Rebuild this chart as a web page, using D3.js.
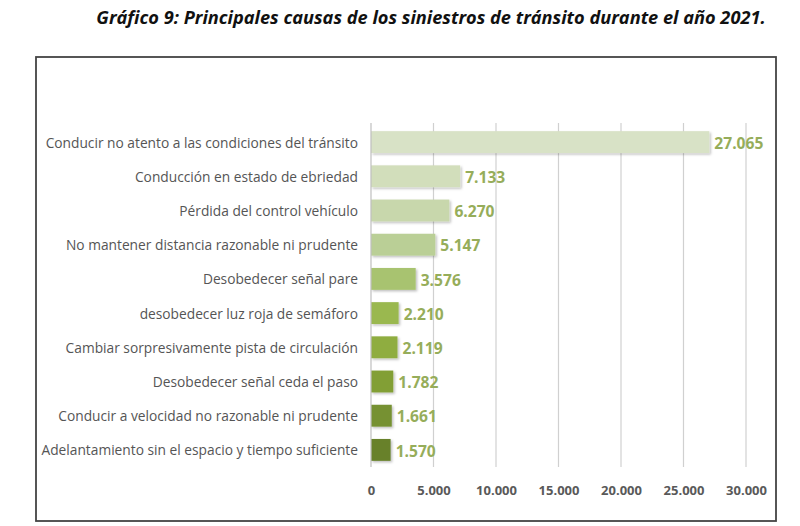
<!DOCTYPE html>
<html><head><meta charset="utf-8">
<script src="https://cdn.jsdelivr.net/npm/d3@7"></script>
<style>body{margin:0;background:#fff;}svg{display:block;}</style>
</head><body>
<svg id="c" width="800" height="526"></svg>
<script>
const categories = [
  "Conducir no atento a las condiciones del tránsito",
  "Conducción en estado de ebriedad",
  "Pérdida del control vehículo",
  "No mantener distancia razonable ni prudente",
  "Desobedecer señal pare",
  "desobedecer luz roja de semáforo",
  "Cambiar sorpresivamente pista de circulación",
  "Desobedecer señal ceda el paso",
  "Conducir a velocidad no razonable ni prudente",
  "Adelantamiento sin el espacio y tiempo suficiente"
];
const values = [27065, 7133, 6270, 5147, 3576, 2210, 2119, 1782, 1661, 1570];
const valueLabels = ["27.065","7.133","6.270","5.147","3.576","2.210","2.119","1.782","1.661","1.570"];
const tickValues = [0, 5000, 10000, 15000, 20000, 25000, 30000];
const tickLabels = ["0","5.000","10.000","15.000","20.000","25.000","30.000"];
const barColors = ["#d8e2c6","#d2debb","#c8d7ac","#bacf96","#a8c36f","#9ab850","#8fad40","#829f36","#769130","#67812b"];
const title = "Gráfico 9: Principales causas de los siniestros de tránsito durante el año 2021.";

const svg = d3.select("#c");
const font = "'Open Sans', Lato, sans-serif";

svg.append("text").attr("x", 431).attr("y", 24).attr("text-anchor","middle")
  .attr("font-family", font).attr("font-style","italic").attr("font-weight","bold")
  .attr("font-size", 18.2).attr("fill","#111").text(title);

svg.append("rect").attr("x",36).attr("y",57).attr("width",740).attr("height",464)
  .attr("fill","none").attr("stroke","#444").attr("stroke-width",1.8);

const x = d3.scaleLinear().domain([0,30000]).range([371,746]);
const y = d3.scaleBand().domain(categories).range([125,467]).paddingInner(0.36).paddingOuter(0.18);

// gridlines
svg.append("g").selectAll("line").data(tickValues.slice(1)).join("line")
  .attr("x1",d=>x(d)).attr("x2",d=>x(d)).attr("y1",123).attr("y2",467)
  .attr("stroke","#d0d0d0").attr("stroke-width",1.2);

// shadow filter
const defs = svg.append("defs");
const f = defs.append("filter").attr("id","sh").attr("x","-10%").attr("y","-20%").attr("width","130%").attr("height","160%");
f.append("feDropShadow").attr("dx",1.5).attr("dy",1.5).attr("stdDeviation",1).attr("flood-color","#000").attr("flood-opacity",0.25);

svg.append("g").selectAll("rect").data(values).join("rect")
  .attr("x", x(0)).attr("y",(d,i)=>y(categories[i]))
  .attr("width", d=>x(d)-x(0)).attr("height", y.bandwidth())
  .attr("fill",(d,i)=>barColors[i]).attr("filter","url(#sh)");

// axis line
svg.append("line").attr("x1",x(0)).attr("x2",x(0)).attr("y1",123).attr("y2",467)
  .attr("stroke","#bfbfbf").attr("stroke-width",1.2);

// category labels
const yAxis = d3.axisLeft(y).tickSize(0).tickPadding(13);
const ga = svg.append("g").attr("transform",`translate(${x(0)},1)`).call(yAxis);
ga.select(".domain").remove();
ga.selectAll("text").attr("font-family",font).attr("font-size",13.75).attr("fill","#555");

// value labels
svg.append("g").selectAll("text").data(values).join("text")
  .attr("x", d=>x(d)+5).attr("y",(d,i)=>y(categories[i])+y.bandwidth()/2+1)
  .attr("dy","0.36em").attr("font-family",font).attr("font-weight","bold")
  .attr("font-size",15.6).attr("fill","#96ad5a").text((d,i)=>valueLabels[i]);

// x axis
const xAxis = d3.axisBottom(x).tickValues(tickValues).tickSize(0).tickPadding(11)
  .tickFormat((d,i)=>tickLabels[i]);
const gx = svg.append("g").attr("transform","translate(0,475)").call(xAxis);
gx.select(".domain").remove();
gx.selectAll("text").attr("font-family",font).attr("font-weight","bold").attr("font-size",13).attr("fill","#595959");
</script>
</body></html>
